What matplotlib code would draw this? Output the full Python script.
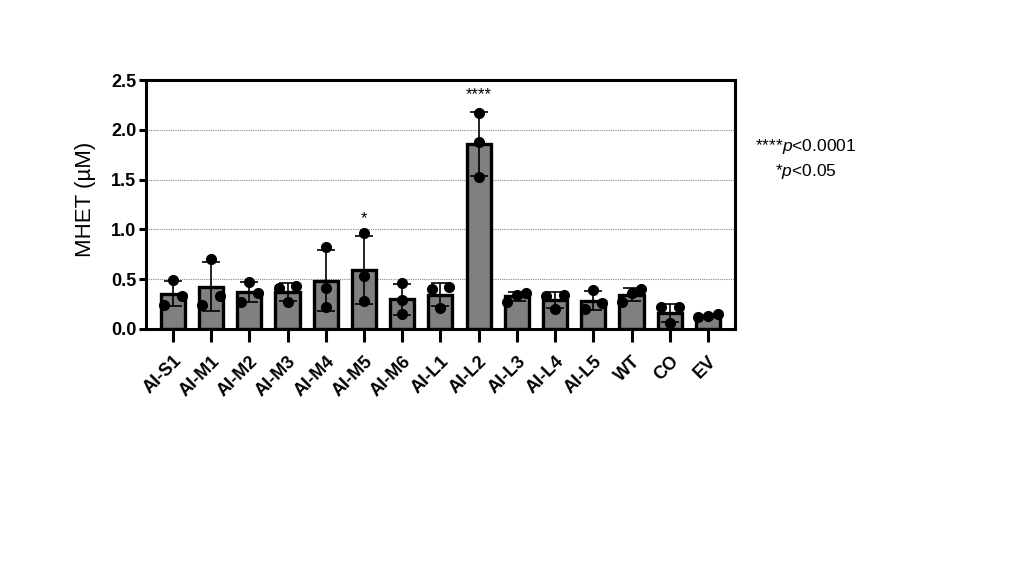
import numpy as np
import matplotlib.pyplot as plt

plt.rcParams['font.family'] = ['Liberation Sans', 'DejaVu Sans']
plt.rcParams['mathtext.fontset'] = 'custom'
plt.rcParams['mathtext.rm'] = 'Liberation Sans'
plt.rcParams['mathtext.it'] = 'Liberation Sans:italic'

# groups and the three replicate values
groups = ['AI-S1', 'AI-M1', 'AI-M2', 'AI-M3', 'AI-M4', 'AI-M5', 'AI-M6', 'AI-L1',
          'AI-L2', 'AI-L3', 'AI-L4', 'AI-L5', 'WT', 'CO', 'EV']
reps = [
    [0.49, 0.24, 0.33],
    [0.70, 0.24, 0.33],
    [0.47, 0.36, 0.27],
    [0.43, 0.415, 0.27],
    [0.82, 0.415, 0.22],
    [0.96, 0.535, 0.28],
    [0.46, 0.29, 0.145],
    [0.42, 0.40, 0.21],
    [2.17, 1.875, 1.53],
    [0.365, 0.34, 0.275],
    [0.34, 0.33, 0.20],
    [0.39, 0.26, 0.20],
    [0.40, 0.36, 0.27],
    [0.215, 0.215, 0.06],
    [0.12, 0.145, 0.13],
]
stars = {'AI-M5': '*', 'AI-L2': '****'}

means = [np.mean(r) for r in reps]
sds = [np.std(r, ddof=1) for r in reps]
x = np.arange(len(groups))

fig = plt.figure(figsize=(10.29, 5.76), dpi=100)
ax = fig.add_axes([0.142, 0.429, 0.572, 0.432])

ax.set_axisbelow(True)
for g in [0.5, 1.0, 1.5, 2.0]:
    ax.axhline(g, color='#888888', linestyle=(0, (1, 1)), linewidth=0.8, zorder=0)

ax.bar(x, means, width=0.63, color='#808080', edgecolor='black', linewidth=2.4, zorder=2)
ax.errorbar(x, means, yerr=sds, fmt='none', ecolor='black', elinewidth=1.2,
            capsize=6.5, capthick=1.2, zorder=3)


# spread points that sit too close to each other, like a little swarm
def offsets(vals, gap=0.1):
    order = np.argsort(vals)
    off = np.zeros(len(vals))
    clusters = [[order[0]]]
    for i in order[1:]:
        if vals[i] - vals[clusters[-1][-1]] < gap:
            clusters[-1].append(i)
        else:
            clusters.append([i])
    for c in clusters:
        if len(c) == 2:
            off[c[0]], off[c[1]] = -0.23, 0.23
        elif len(c) == 3:
            off[c[0]], off[c[1]], off[c[2]] = -0.25, 0.0, 0.25
    return off


for i, r in enumerate(reps):
    r = np.array(r)
    ax.plot(x[i] + offsets(r), r, 'o', color='black', markersize=7, zorder=4,
            clip_on=False)

for name, s in stars.items():
    i = groups.index(name)
    ax.text(x[i], means[i] + sds[i] + 0.1, s, ha='center', va='bottom', fontsize=12)

ax.set_xlim(-0.7, 14.7)
ax.set_ylim(0, 2.5)
ax.set_yticks([0.0, 0.5, 1.0, 1.5, 2.0, 2.5])
ax.set_yticklabels(['0.0', '0.5', '1.0', '1.5', '2.0', '2.5'], fontsize=13, fontweight='bold')
ax.set_xticks(x)
ax.set_xticklabels(groups, rotation=45, ha='right', va='top', rotation_mode='anchor',
                   fontsize=13, fontweight='bold')
ax.tick_params(axis='x', length=9, width=2.2, pad=8)
ax.tick_params(axis='y', length=5, width=2.2, pad=2)
for sp in ax.spines.values():
    sp.set_linewidth(2.2)
ax.set_ylabel('MHET (µM)', fontsize=16)
ax.yaxis.set_label_coords(-0.085, 0.52)

fig.text(0.783, 0.745, r'****$\mathit{p}$<0.0001', ha='center', va='center', fontsize=12.5)
fig.text(0.783, 0.703, r'*$\mathit{p}$<0.05', ha='center', va='center', fontsize=12.5)

fig.savefig('out.png', dpi=100)
